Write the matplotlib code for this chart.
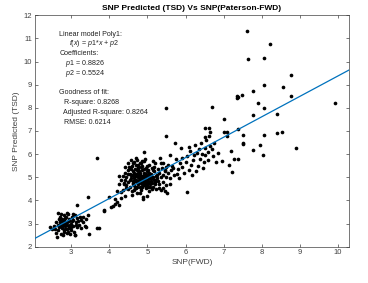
import numpy as np
import matplotlib
matplotlib.use("Agg")
import matplotlib.pyplot as plt

plt.rcParams['font.family'] = ['Liberation Sans', 'DejaVu Sans']
plt.rcParams['mathtext.fontset'] = 'custom'
plt.rcParams['mathtext.it'] = 'Liberation Sans:italic'
plt.rcParams['mathtext.rm'] = 'Liberation Sans'

# fit coefficients
p1 = 0.8826
p2 = 0.5524

# low cluster around x ~ 3
x_low = [2.45, 2.5, 2.55, 2.6, 2.6, 2.62, 2.65, 2.65, 2.68, 2.7, 2.7, 2.72, 2.75, 2.75, 2.78, 2.8,
         2.8, 2.82, 2.85, 2.85, 2.88, 2.9, 2.9, 2.92, 2.95, 2.95, 2.97, 3.0, 3.0, 3.02, 3.05, 3.05,
         3.08, 3.1, 3.1, 3.12, 3.15, 3.15, 3.18, 3.2, 3.22, 3.25, 3.3, 3.32, 3.35, 3.4, 3.45, 2.7,
         2.75, 2.8, 2.85, 2.9, 2.95, 3.0, 2.65, 2.58, 2.72, 2.88, 3.05, 2.78, 2.92, 3.25, 3.4, 3.16,
         3.44, 3.48, 3.67, 3.74, 3.1, 3.67, 3.85, 3.87, 4.0,
         2.76, 2.84, 2.93, 2.67, 3.03, 2.81, 2.98, 2.7, 3.13, 2.87]
y_low = [2.85, 2.75, 2.9, 3.05, 2.6, 2.4, 3.45, 2.7, 3.2, 2.95, 3.3, 2.55, 3.1, 2.8, 3.0, 3.35,
         2.65, 3.15, 2.9, 3.25, 2.6, 3.05, 2.75, 3.4, 2.85, 3.2, 2.55, 3.0, 2.7, 3.3, 2.9, 3.15,
         2.65, 3.35, 2.5, 3.05, 3.25, 2.85, 3.1, 2.95, 3.3, 3.15, 3.05, 3.3, 2.9, 3.2, 3.35, 3.05,
         2.9, 3.1, 2.75, 2.95, 3.1, 2.85, 2.95, 2.75, 3.4, 3.45, 3.4, 2.5, 2.65, 2.8, 2.85, 3.79,
         4.15, 2.53, 2.82, 2.82, 2.5, 5.85, 3.55, 3.6, 4.16,
         3.2, 3.0, 2.8, 2.85, 3.1, 2.7, 2.95, 3.15, 2.95, 3.3]

# middle cluster around x ~ 4.8
x_mid = [4.05, 4.1, 4.15, 4.2, 4.15, 4.25, 4.3, 4.35, 4.2, 4.3, 4.4, 4.38, 4.25, 4.45,
         4.45, 4.5, 4.5, 4.52, 4.55, 4.55, 4.58, 4.6, 4.6, 4.62, 4.63, 4.65, 4.65, 4.67, 4.68, 4.7,
         4.7, 4.72, 4.72, 4.74, 4.75, 4.75, 4.77, 4.78, 4.8, 4.8, 4.8, 4.82, 4.83, 4.85, 4.85, 4.87,
         4.88, 4.9, 4.9, 4.92, 4.93, 4.95, 4.95, 4.97, 5.0, 5.0, 5.02, 5.03, 5.05, 5.05, 5.08, 5.1,
         5.1, 5.12, 5.15, 5.15, 5.18, 5.2, 5.2, 5.22, 5.25, 5.25, 5.28, 5.3, 5.3, 5.32, 5.35, 5.35,
         5.38, 5.4, 5.4, 5.42, 5.45, 5.48, 5.5, 5.5, 5.52, 5.55, 5.55, 4.4, 4.42, 4.48, 4.35, 4.38,
         4.57, 4.62, 4.66, 4.69, 4.71, 4.73, 4.76, 4.79, 4.81, 4.84, 4.86, 4.89, 4.91, 4.94, 4.96,
         4.98, 5.01, 5.04, 5.06, 5.09, 5.11, 5.14, 5.17, 5.19, 5.23, 5.27, 4.6, 4.64, 4.68, 4.74,
         4.78, 4.82, 4.86, 4.9, 4.94, 4.98, 5.02, 4.55, 4.5, 4.7, 4.85, 5.0, 5.15, 4.45, 4.6, 4.8,
         5.0, 4.88, 4.92, 4.3, 4.25, 4.4, 5.3, 5.45, 5.6, 5.58, 5.62,
         4.53, 4.58, 4.61, 4.66, 4.7, 4.73, 4.77, 4.8, 4.84, 4.87, 4.91, 4.95, 4.99, 5.03, 5.07,
         5.12, 5.16, 5.21, 4.56, 4.64, 4.72, 4.79, 4.88, 4.96, 5.05, 5.13, 4.48, 4.68, 4.83, 5.08,
         5.35, 5.42, 5.47, 4.62, 4.75, 4.9]
y_mid = [3.7, 3.75, 3.85, 3.95, 4.05, 3.8, 4.35, 4.45, 4.4, 4.1, 4.2, 4.75, 4.7, 4.55,
         5.0, 5.3, 4.8, 5.45, 4.6, 5.15, 4.95, 5.5, 4.4, 5.25, 4.75, 5.05, 5.65, 4.55, 5.35, 4.9,
         5.15, 4.3, 5.75, 4.7, 5.0, 5.45, 4.85, 5.25, 4.6, 5.1, 5.6, 4.45, 4.95, 5.3, 4.75, 5.5,
         4.15, 5.0, 4.65, 5.2, 5.8, 4.85, 5.4, 4.55, 5.05, 4.75, 5.3, 4.4, 4.95, 5.55, 4.7, 5.15,
         4.85, 5.4, 4.6, 5.0, 5.25, 4.8, 5.6, 4.5, 5.1, 4.95, 5.35, 4.7, 5.2, 5.85, 5.0, 4.45,
         5.4, 5.1, 4.8, 5.6, 5.25, 4.65, 5.45, 5.0, 4.3, 5.55, 5.2, 4.9, 5.2, 4.5, 5.05, 4.7,
         5.75, 4.85, 4.45, 5.55, 5.05, 4.6, 5.35, 4.9, 5.2, 4.55, 5.05, 4.8, 5.35, 4.7, 5.15,
         4.9, 4.6, 5.2, 4.8, 5.0, 4.5, 5.3, 4.9, 4.7, 5.05, 4.85, 5.1, 4.65, 4.85, 5.2,
         4.75, 5.0, 4.7, 4.9, 5.05, 4.65, 4.85, 5.4, 5.6, 5.85, 5.7, 5.5, 5.7, 4.65, 4.25, 4.3,
         4.2, 4.05, 6.09, 4.9, 5.05, 5.45, 4.55, 4.4, 4.7, 4.95, 5.3,
         4.9, 5.35, 4.7, 5.2, 4.55, 5.3, 5.1, 4.85, 5.45, 4.6, 5.1, 4.6, 5.25, 5.0, 4.6,
         4.95, 5.45, 4.9, 5.1, 4.95, 4.8, 5.0, 4.95, 4.75, 5.15, 4.75, 5.15, 4.6, 5.6, 4.95,
         5.6, 4.55, 5.3, 5.6, 5.55, 5.7]

# upper spread, x > 5.6
x_high = [5.65, 5.7, 5.73, 5.75, 5.8, 5.82, 5.85, 5.87, 5.9, 5.92, 5.95, 6.0, 6.03, 6.05, 6.1,
          6.12, 6.15, 6.2, 6.22, 6.25, 6.28, 6.3, 6.33, 6.35, 6.38, 6.4, 6.42, 6.45, 6.5, 6.52,
          6.55, 6.58, 6.6, 6.65, 6.7, 6.75, 6.8, 6.86, 6.95, 7.14, 7.2, 7.23, 7.28, 7.37, 7.51,
          7.52, 7.76, 7.95, 8.02, 8.89, 5.6, 5.68, 5.78, 6.08, 6.18, 6.48, 6.62, 6.72,
          7.62, 8.22, 7.63, 8.07, 8.77, 8.07, 8.57, 7.78, 8.77, 7.48, 7.36, 7.36, 7.37, 5.49, 6.70,
          7.9, 8.07, 9.92, 7.77, 8.39, 7.01, 5.49, 6.52, 6.62, 6.64, 7.01, 7.39, 7.52, 8.07, 8.39,
          8.53, 6.52, 7.1, 7.1]
y_high = [5.5, 5.1, 6.48, 5.8, 5.35, 4.95, 5.6, 6.27, 5.45, 5.85, 5.2, 5.65, 4.35, 5.9, 5.3,
          6.15, 5.55, 5.75, 5.95, 6.4, 5.25, 6.05, 5.5, 6.2, 5.8, 6.5, 6.0, 5.4, 6.25, 5.95,
          6.6, 6.1, 5.75, 6.35, 6.2, 6.5, 5.68, 6.06, 5.72, 5.53, 6.15, 5.24, 5.8, 5.78, 6.48,
          6.42, 6.19, 6.38, 5.95, 6.25, 5.95, 5.4, 5.15, 6.3, 5.1, 5.65, 6.8, 5.9,
          11.33, 10.77, 10.11, 10.17, 9.43, 8.97, 8.91, 8.73, 8.53, 8.57, 8.44, 8.5, 8.47, 8.0, 8.04,
          8.2, 8.0, 8.21, 7.7, 7.75, 7.53, 6.78, 7.13, 7.13, 6.94, 6.97, 7.09, 6.83, 6.84, 6.92,
          6.97, 6.73, 6.97, 6.78]

x_all = x_low + x_mid + x_high
y_all = y_low + y_mid + y_high

fig = plt.figure(figsize=(3.68, 2.83), dpi=100)
ax = fig.add_axes([0.0951, 0.1283, 0.8533, 0.8177])

ax.scatter(x_all, y_all, s=7, c='black', linewidths=0, zorder=2)

xlim = (2.05, 10.29)
xl = np.array(xlim)
ax.plot(xl, p1 * xl + p2, color='#0072BD', lw=0.9, zorder=3)

ax.set_xlim(xlim)
ax.set_ylim(2, 12)
ax.set_xticks(range(3, 11))
ax.set_yticks(range(2, 13))
ax.tick_params(direction='in', top=True, right=True, length=2.5, width=0.5,
               labelsize=5.5, colors='#404040', pad=2)
for s in ax.spines.values():
    s.set_color('#404040')
    s.set_linewidth(0.5)

ax.set_title('SNP Predicted (TSD) Vs SNP(Paterson-FWD)', fontsize=6, fontweight='bold', pad=4)
ax.set_xlabel('SNP(FWD)', fontsize=6, color='#404040', labelpad=2)
ax.set_ylabel('SNP Predicted (TSD)', fontsize=6, color='#404040', labelpad=3)

# fit summary text, positions in axes fraction
lines = [
    (0.077, 0.919, 'Linear model Poly1:'),
    (0.107, 0.877, r'$f(x)$ = $p1$*$x$ + $p2$'),
    (0.077, 0.834, 'Coefficients:'),
    (0.095, 0.791, r'$p1$ = 0.8826'),
    (0.095, 0.748, r'$p2$ = 0.5524'),
    (0.077, 0.667, 'Goodness of fit:'),
    (0.092, 0.625, 'R-square: 0.8268'),
    (0.088, 0.580, 'Adjusted R-square: 0.8264'),
    (0.092, 0.537, 'RMSE: 0.6214'),
]
for x, y, t in lines:
    ax.text(x, y, t, transform=ax.transAxes, fontsize=5.1, va='center', ha='left',
            color='#222222')

fig.savefig('out.png', dpi=100)
